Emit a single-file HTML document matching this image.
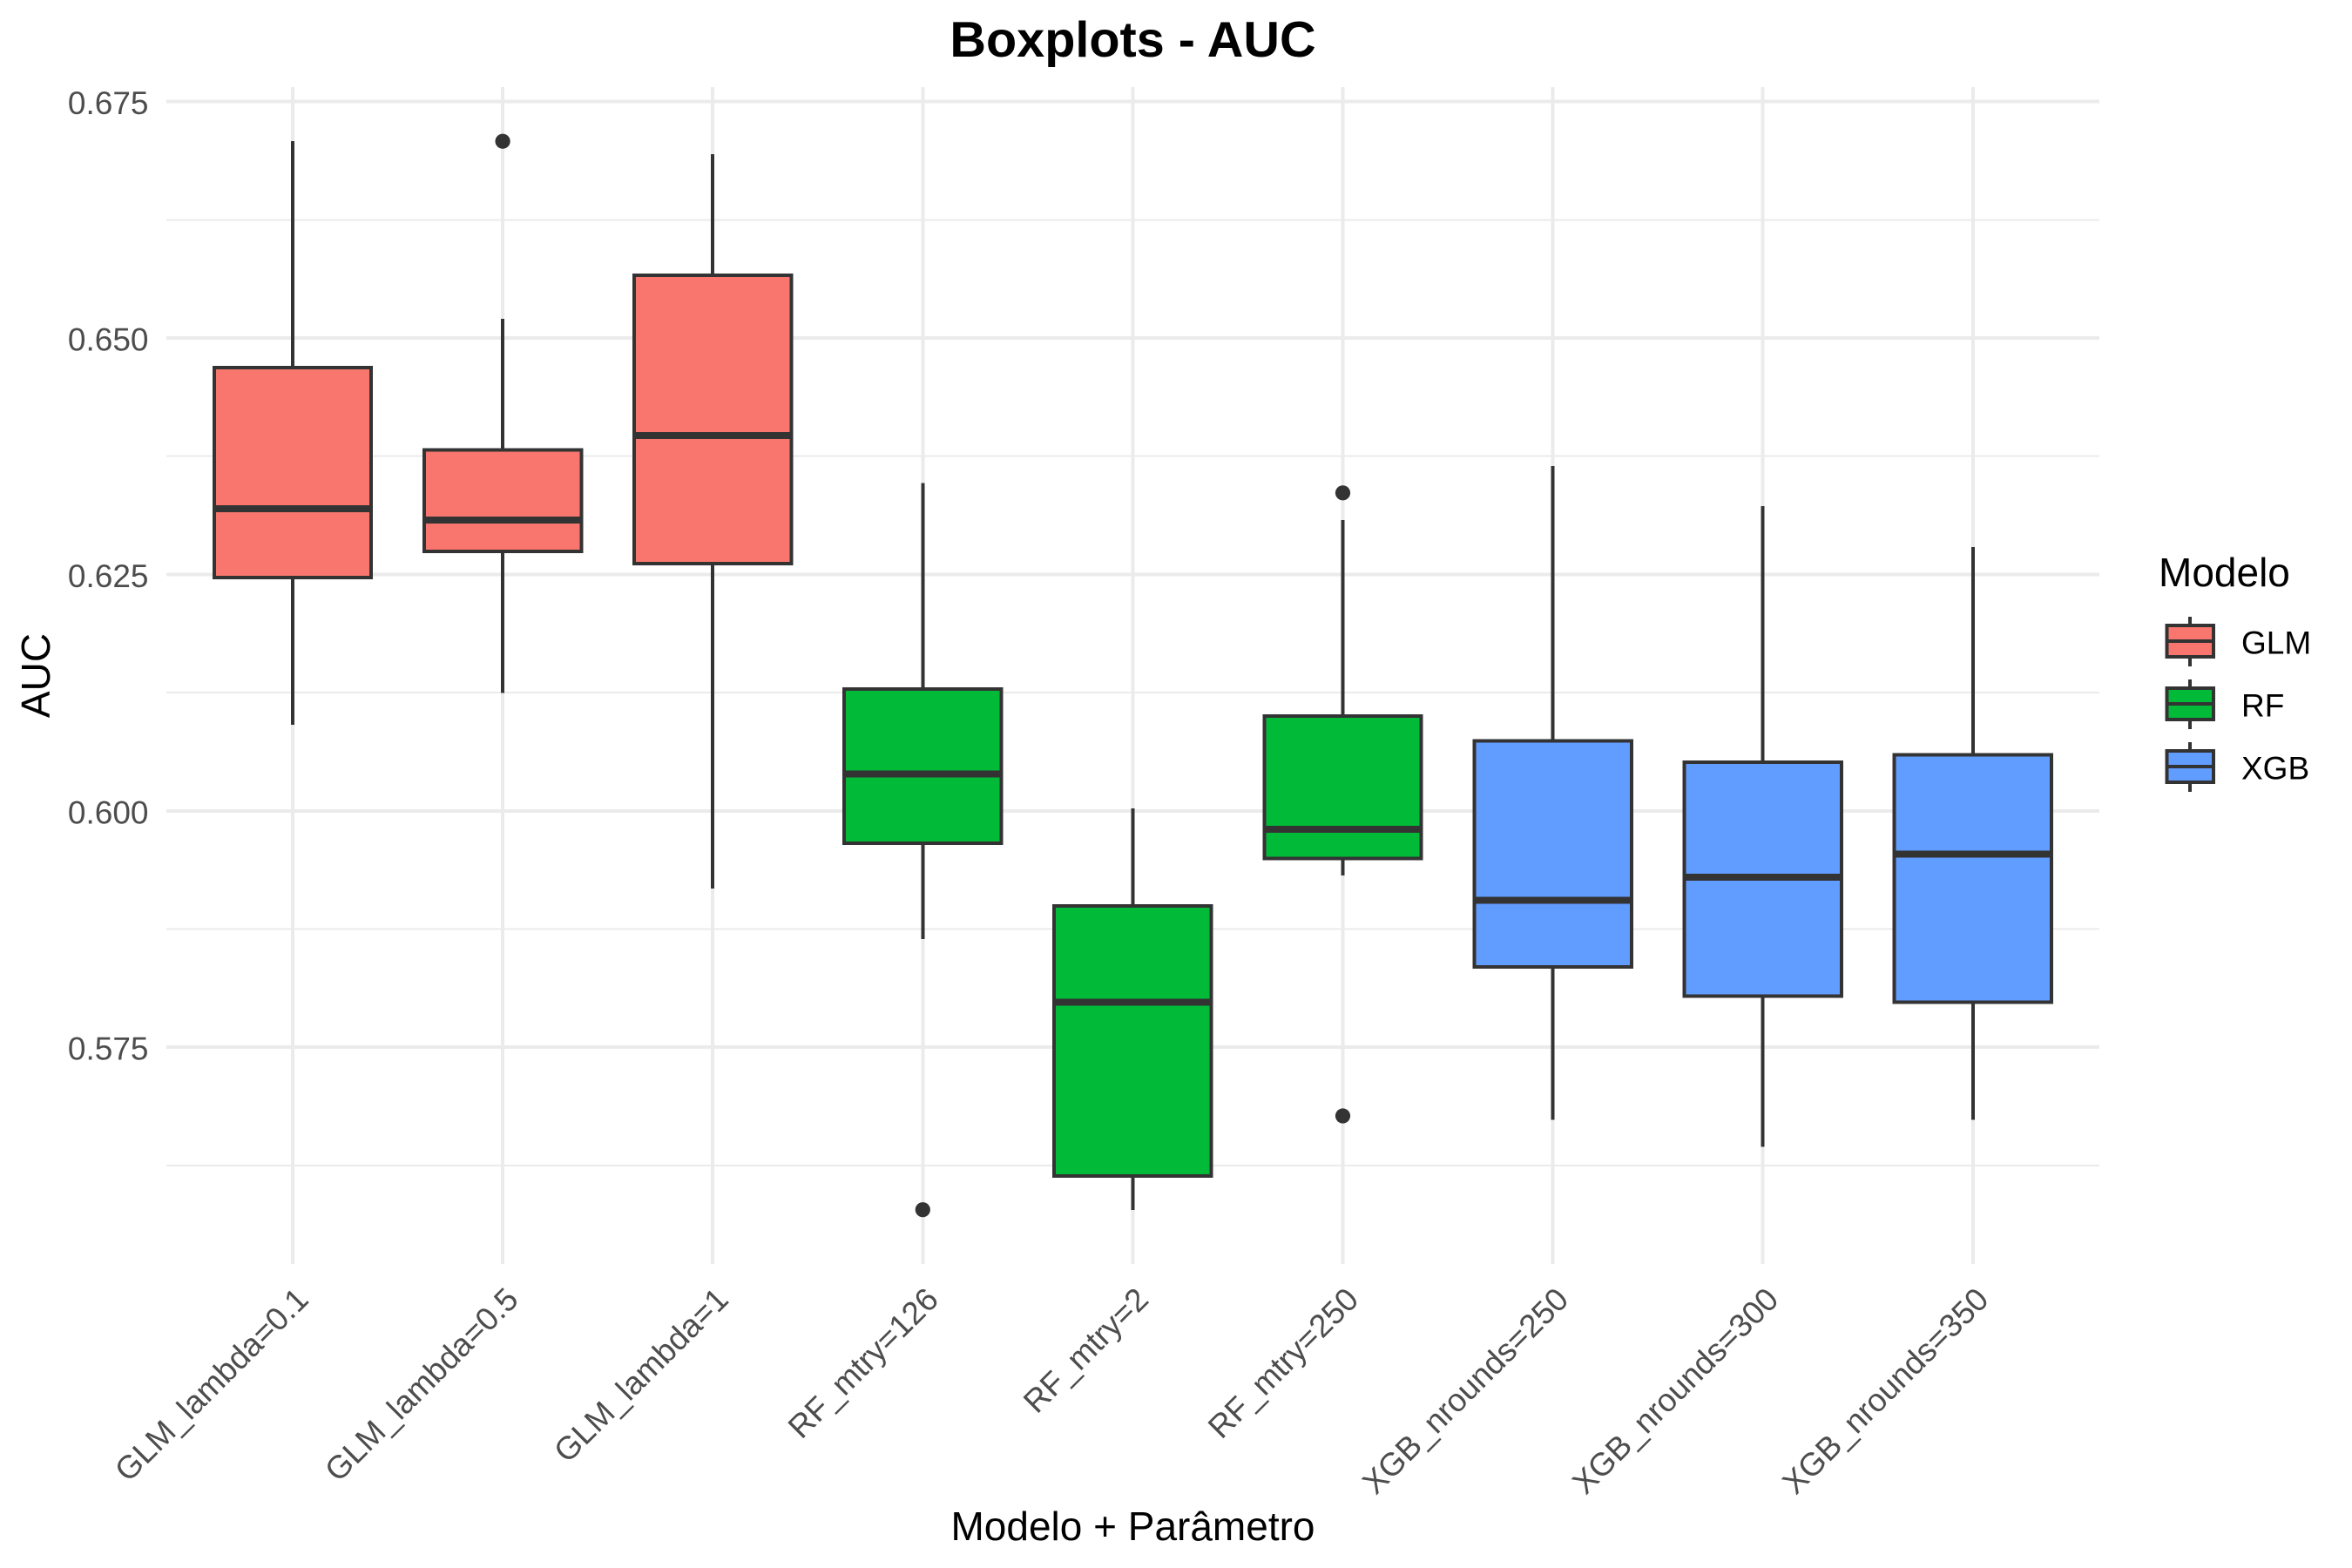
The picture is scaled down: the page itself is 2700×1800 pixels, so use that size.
<!DOCTYPE html>
<html lang="pt">
<head>
<meta charset="utf-8">
<title>Boxplots - AUC</title>
<style>
html,body{margin:0;padding:0;background:#fff;}
svg{display:block;font-family:"Liberation Sans",Arial,sans-serif;}
</style>
</head>
<body>
<svg id="chart" xmlns="http://www.w3.org/2000/svg" width="2700" height="1800" viewBox="0 0 2700 1800">
  <rect x="0" y="0" width="2700" height="1800" fill="#ffffff"/>
  <g id="grid" shape-rendering="crispEdges"></g>
  <g id="boxes"></g>
  <g id="yticks"></g>
  <g id="xticks"></g>
  <text x="1300.5" y="65" font-size="57.6" font-weight="700" text-anchor="middle" fill="#000000">Boxplots - AUC</text>
  <text x="1300.5" y="1768" font-size="46" text-anchor="middle" fill="#000000">Modelo + Parâmetro</text>
  <text transform="translate(57,775.5) rotate(-90)" font-size="46" text-anchor="middle" fill="#000000">AUC</text>
  <g id="legend">
    <text x="2478" y="673" font-size="46" fill="#000000">Modelo</text>
  </g>
</svg>
<script>
const categories = ["GLM_lambda=0.1","GLM_lambda=0.5","GLM_lambda=1","RF_mtry=126","RF_mtry=2","RF_mtry=250","XGB_nrounds=250","XGB_nrounds=300","XGB_nrounds=350"];
const groups = ["GLM","GLM","GLM","RF","RF","RF","XGB","XGB","XGB"];
const whiskerHigh = [0.67080,0.65202,0.66943,0.63464,0.60027,0.63074,0.63646,0.63223,0.62789];
const q3Values = [0.64688,0.63817,0.65664,0.61287,0.58994,0.61002,0.60738,0.60515,0.60590];
const medians = [0.63195,0.63075,0.63968,0.60388,0.57974,0.59807,0.59056,0.59299,0.59542];
const q1Values = [0.62467,0.62745,0.62612,0.59656,0.56139,0.59494,0.58347,0.58041,0.57977];
const whiskerLow = [0.60908,0.61247,0.59179,0.58642,0.55778,0.59317,0.56734,0.56449,0.56734];
const outliers = [[],[0.67080],[],[0.55782],[],[0.63362,0.56774],[],[],[]];
const yMajorTicks = [0.675,0.650,0.625,0.600,0.575];
const yMinorTicks = [0.6625,0.6375,0.6125,0.5875,0.5625];
const yTickLabels = ["0.675","0.650","0.625","0.600","0.575"];
const legendGroups = ["GLM","RF","XGB"];
const legendColors = ["#F8766D","#00BA38","#619CFF"];

const NS = "http://www.w3.org/2000/svg";
const panel = {left:191, right:2410, top:100, bottom:1451};
function xScale(i){ return 336 + 241.1 * i; }
function yScale(v){ return 116.6 + (0.675 - v) * 10856; }
const BOX_HALF = 90.2;
const INK = "#333333";
const GRID = "#EBEBEB";

function mk(tag, attrs, parent){
  const el = document.createElementNS(NS, tag);
  for (const k in attrs) el.setAttribute(k, attrs[k]);
  parent.appendChild(el);
  return el;
}
function colorOf(g){ return legendColors[legendGroups.indexOf(g)]; }

const gridG = document.getElementById("grid");
yMinorTicks.forEach(function(v){
  const l = mk("line",{x1:panel.left,x2:panel.right,y1:yScale(v),y2:yScale(v),stroke:GRID,"stroke-width":2},gridG);
  
  
});
yMajorTicks.forEach(function(v){
  const l = mk("line",{x1:panel.left,x2:panel.right,y1:yScale(v),y2:yScale(v),stroke:GRID,"stroke-width":4},gridG);
  
  
});
categories.forEach(function(c,i){
  const l = mk("line",{x1:xScale(i),x2:xScale(i),y1:panel.top,y2:panel.bottom,stroke:GRID,"stroke-width":4},gridG);
  
  
});

const boxesG = document.getElementById("boxes");
categories.forEach(function(c,i){
  const g = mk("g",{},boxesG);
  
  
  const cx = xScale(i);
  const up = mk("line",{x1:cx,x2:cx,y1:yScale(whiskerHigh[i]),y2:yScale(q3Values[i]),stroke:INK,"stroke-width":4,"shape-rendering":"crispEdges"},g);
  
  
  const down = mk("line",{x1:cx,x2:cx,y1:yScale(q1Values[i]),y2:yScale(whiskerLow[i]),stroke:INK,"stroke-width":4,"shape-rendering":"crispEdges"},g);
  
  
  const box = mk("rect",{x:cx-BOX_HALF,y:yScale(q3Values[i]),width:BOX_HALF*2,height:yScale(q1Values[i])-yScale(q3Values[i]),fill:colorOf(groups[i]),stroke:INK,"stroke-width":4,"shape-rendering":"crispEdges"},g);
  
  
  const med = mk("line",{x1:cx-BOX_HALF,x2:cx+BOX_HALF,y1:yScale(medians[i]),y2:yScale(medians[i]),stroke:INK,"stroke-width":8,"shape-rendering":"crispEdges"},g);
  
  
  outliers[i].forEach(function(v){
    const p = mk("circle",{cx:cx,cy:yScale(v),r:8.6,fill:INK},g);
    
    
  });
});

const yG = document.getElementById("yticks");
yMajorTicks.forEach(function(v,i){
  const t = mk("text",{x:170.5,y:yScale(v)+14.5,"font-size":37,"text-anchor":"end",fill:"#4D4D4D"},yG);
  t.textContent = yTickLabels[i];
  
  
});

const xG = document.getElementById("xticks");
categories.forEach(function(c,i){
  const t = mk("text",{transform:"translate("+(xScale(i)+20)+",1494) rotate(-45)","font-size":37,"text-anchor":"end",fill:"#4D4D4D"},xG);
  t.textContent = c;
  
  
});

const legendG = document.getElementById("legend");
legendGroups.forEach(function(name,i){
  const off = 72 * i;
  const g = mk("g",{},legendG);
  
  
  const key = mk("g",{"shape-rendering":"crispEdges"},g);
  
  
  mk("line",{x1:2514,x2:2514,y1:708+off,y2:765+off,stroke:INK,"stroke-width":4},key);
  mk("rect",{x:2487.3,y:718+off,width:53.7,height:36,fill:legendColors[i],stroke:INK,"stroke-width":4},key);
  mk("line",{x1:2487.3,x2:2541,y1:736+off,y2:736+off,stroke:INK,"stroke-width":4},key);
  const t = mk("text",{x:2573,y:750.7+off,"font-size":37,fill:"#000000"},g);
  t.textContent = name;
  
  
});
</script>
</body>
</html>
